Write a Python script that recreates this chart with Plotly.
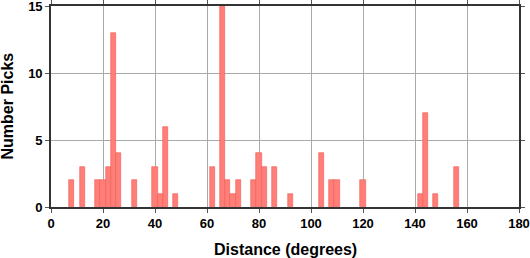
import plotly.graph_objects as go

# bin centres (degrees), bin width 2
distance = [8, 12, 18, 20, 22, 24, 26, 32, 40, 42, 44, 48, 62, 66, 68, 70, 72,
            78, 80, 82, 86, 92, 104, 108, 110, 120, 142, 144, 148, 156]
picks = [2, 3, 2, 2, 3, 13, 4, 2, 3, 1, 6, 1, 3, 15, 2, 1, 2,
         2, 4, 3, 3, 1, 4, 2, 2, 2, 1, 7, 1, 3]
bin_width = 2

x_ticks = [0, 20, 40, 60, 80, 100, 120, 140, 160, 180]
y_ticks = [0, 5, 10, 15]

fig = go.Figure(go.Bar(
    x=distance, y=picks, width=[bin_width] * len(distance),
    marker=dict(color="#ff7f78", line=dict(color="#ee5a55", width=0.6)),
))

font = "Liberation Sans, Arial, sans-serif"
title_font = dict(family=font, size=16, color="black", weight="bold")
axis_common = dict(
    showline=True, linecolor="#333", linewidth=1.6, mirror="ticks",
    ticks="outside", ticklen=4, tickwidth=1, tickcolor="#555",
    showgrid=True, gridcolor="#aaaaaa", gridwidth=1, zeroline=False,
    automargin=False, ticklabeloverflow="allow",
    tickfont=dict(family=font, size=13, color="black", weight="bold"),
)

fig.update_layout(
    width=530, height=258,
    margin=dict(l=51, r=11, t=6, b=51, autoexpand=False),
    paper_bgcolor="white", plot_bgcolor="white",
    showlegend=False, bargap=0,
    xaxis=dict(range=[0, 180], tickvals=x_ticks, **axis_common),
    yaxis=dict(range=[0, 15], tickvals=y_ticks, **axis_common),
    annotations=[
        dict(text="Distance (degrees)", xref="paper", yref="paper",
             x=0.5, y=-0.209, xanchor="center", yanchor="middle",
             showarrow=False, font=title_font),
        dict(text="Number Picks", xref="paper", yref="paper",
             x=-0.094, y=0.5, xanchor="center", yanchor="middle",
             textangle=-90, showarrow=False, font=title_font),
    ],
)

fig.write_html("out.html")
